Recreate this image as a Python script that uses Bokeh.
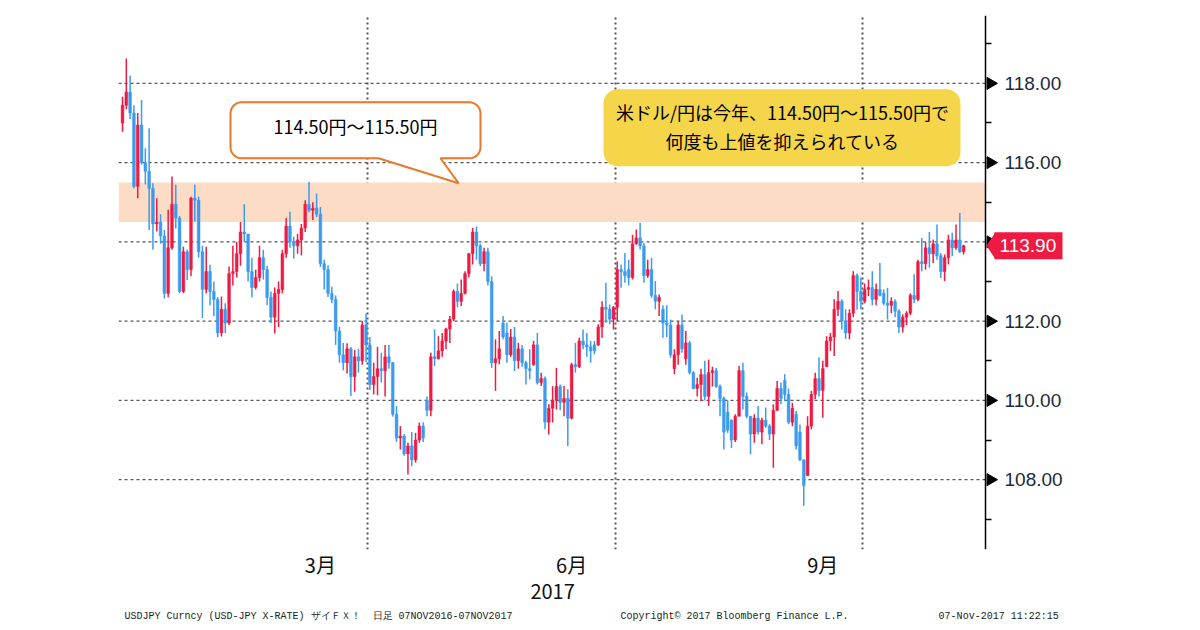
import numpy as np
import pandas as pd
from bokeh.plotting import figure
from bokeh.models import (Range1d, FixedTicker, PrintfTickFormatter, BoxAnnotation,
                          Label, ColumnDataSource, PolyAnnotation, Title)
from bokeh.embed import file_html
from bokeh.resources import INLINE

# ---------------- data (USD/JPY daily) ----------------
start_date = "2017-01-02"
end_date = "2017-11-07"

opens = [
    117.00, 117.45, 117.78, 117.25, 115.40, 116.95, 116.00, 115.78, 115.35, 114.45,
    114.50, 114.15, 112.70, 113.85, 114.95, 114.60, 112.75, 113.75, 113.30, 115.10,
    115.05, 113.75, 112.80, 113.25, 112.75, 112.55, 111.70, 112.30, 111.95, 113.20,
    113.25, 113.70, 114.25, 114.20, 113.25, 112.85, 113.10, 113.60, 113.30, 112.60,
    112.10, 112.70, 112.80, 113.70, 114.40, 114.00, 113.90, 114.05, 114.35, 114.95,
    114.80, 114.85, 114.70, 113.45, 113.30, 112.70, 112.55, 111.75, 111.15, 110.95,
    111.30, 110.60, 111.10, 111.00, 111.90, 111.40, 110.40, 110.60, 110.80, 110.75,
    111.10, 110.95, 109.65, 109.05, 109.10, 108.65, 108.85, 108.50, 109.00, 109.35,
    110.00, 109.75, 111.10, 111.05, 111.25, 111.50, 111.80, 112.05, 112.75, 112.50,
    112.70, 113.20, 113.70, 114.25, 113.90, 113.45, 113.75, 113.00, 110.95, 111.05,
    111.95, 111.70, 111.15, 111.60, 111.00, 111.30, 110.95, 110.80, 110.90, 111.40,
    110.45, 110.55, 109.45, 109.80, 110.00, 110.35, 109.95, 110.05, 109.55, 110.90,
    110.85, 111.50, 111.40, 111.35, 111.40, 111.40, 111.85, 112.35, 112.30, 112.05,
    112.35, 113.30, 113.25, 113.30, 113.10, 113.95, 114.10, 113.90, 113.15, 113.30,
    112.65, 112.50, 112.30, 111.95, 111.90, 110.80, 111.15, 111.90, 111.05, 111.45,
    110.70, 110.30, 110.40, 110.65, 110.10, 110.70, 110.75, 110.35, 110.05, 109.70,
    109.50, 109.00, 109.60, 110.75, 110.10, 109.60, 109.15, 109.55, 109.20, 109.50,
    109.35, 109.15, 109.75, 110.30, 110.50, 110.15, 109.45, 109.65, 109.20, 108.50,
    108.10, 109.35, 110.15, 110.55, 110.25, 110.85, 111.50, 111.60, 112.30, 112.50,
    112.00, 111.70, 112.20, 113.15, 112.75, 112.50, 112.80, 112.85, 112.55, 112.80,
    112.70, 112.45, 112.40, 112.50, 112.25, 111.85, 112.10, 112.20, 112.65, 112.55,
    113.50, 113.45, 113.85, 113.70, 113.95, 113.65, 113.25, 113.60, 114.05, 113.85,
    114.05, 113.75,
]
highs = [
    117.66, 118.63, 118.20, 117.45, 117.25, 117.58, 116.36, 116.87, 115.48, 115.10,
    114.70, 114.30, 114.81, 115.65, 115.44, 114.65, 113.88, 113.80, 115.14, 115.44,
    115.14, 113.90, 113.88, 113.42, 113.00, 112.60, 112.62, 112.45, 113.38, 113.90,
    114.00, 114.50, 114.95, 114.20, 113.60, 113.30, 113.90, 113.80, 113.40, 112.75,
    112.85, 113.00, 113.80, 114.60, 114.76, 114.13, 114.20, 114.45, 115.05, 115.51,
    115.00, 115.22, 114.88, 113.55, 113.41, 112.87, 112.65, 111.86, 111.45, 111.44,
    111.35, 111.27, 111.30, 112.00, 112.19, 111.60, 110.95, 111.35, 111.20, 111.40,
    111.40, 110.97, 109.86, 109.35, 109.15, 108.93, 109.20, 109.18, 109.44, 109.45,
    110.10, 111.20, 111.79, 111.62, 111.70, 111.83, 112.13, 112.80, 112.95, 113.05,
    113.26, 113.72, 114.35, 114.39, 113.95, 113.85, 113.85, 113.13, 111.54, 111.75,
    112.13, 111.96, 111.80, 111.85, 111.45, 111.40, 111.00, 111.29, 111.50, 111.70,
    110.70, 110.60, 109.90, 110.36, 110.82, 110.40, 110.36, 110.28, 110.95, 111.45,
    111.58, 111.79, 111.70, 111.50, 111.50, 111.92, 112.50, 112.97, 112.42, 112.38,
    113.51, 113.43, 113.72, 113.55, 114.18, 114.31, 114.48, 113.97, 113.55, 113.60,
    113.01, 112.67, 112.40, 112.40, 112.04, 111.29, 112.00, 112.17, 111.75, 111.50,
    110.74, 110.57, 110.80, 111.00, 111.03, 110.85, 110.82, 110.40, 110.10, 110.00,
    109.52, 109.65, 110.87, 110.95, 110.20, 109.60, 109.65, 109.86, 109.56, 109.82,
    109.40, 109.90, 110.49, 110.45, 110.66, 110.30, 109.94, 109.73, 109.39, 108.51,
    109.60, 110.24, 110.70, 111.08, 111.00, 111.62, 111.70, 112.55, 112.76, 112.55,
    112.30, 112.30, 113.26, 113.20, 113.10, 112.95, 113.05, 113.26, 112.95, 113.47,
    112.80, 112.84, 112.60, 112.55, 112.30, 112.17, 112.25, 112.70, 113.18, 113.55,
    114.10, 114.00, 114.25, 114.06, 114.44, 113.72, 113.68, 114.18, 114.23, 114.44,
    114.73, 113.93,
]
lows = [
    116.78, 117.35, 117.10, 115.35, 115.10, 115.95, 115.45, 114.30, 113.80, 114.26,
    113.95, 112.57, 112.60, 113.80, 114.34, 112.71, 112.71, 113.04, 113.13, 114.51,
    113.60, 112.08, 112.70, 112.40, 112.12, 111.59, 111.61, 111.70, 111.90, 112.90,
    113.10, 113.40, 114.00, 113.00, 112.60, 112.80, 113.00, 113.05, 112.40, 111.95,
    111.69, 111.85, 112.70, 113.60, 113.85, 113.58, 113.70, 113.66, 114.25, 114.75,
    114.55, 114.63, 113.37, 112.80, 112.61, 112.45, 111.40, 110.95, 110.76, 110.68,
    110.11, 110.22, 110.70, 110.90, 110.97, 110.26, 110.15, 110.13, 110.45, 110.10,
    110.80, 109.59, 108.95, 108.76, 108.60, 108.13, 108.34, 108.43, 108.93, 108.95,
    109.60, 109.60, 110.87, 111.03, 111.10, 111.29, 111.45, 112.00, 112.35, 112.38,
    112.67, 113.10, 113.43, 113.55, 113.39, 113.26, 112.90, 110.82, 110.24, 110.91,
    111.54, 110.95, 111.10, 110.74, 110.80, 110.85, 110.40, 110.53, 110.87, 110.40,
    110.36, 109.27, 109.14, 109.44, 109.77, 109.75, 109.60, 108.85, 109.52, 110.70,
    110.82, 111.29, 111.10, 110.95, 111.16, 111.37, 111.58, 111.96, 111.92, 111.79,
    112.00, 112.84, 112.97, 112.90, 113.05, 113.93, 113.81, 112.97, 113.09, 112.59,
    112.30, 112.13, 111.58, 111.60, 111.08, 110.66, 110.90, 111.20, 110.90, 110.66,
    110.28, 110.10, 109.98, 110.00, 109.86, 110.35, 110.32, 109.60, 108.76, 109.18,
    108.80, 108.95, 109.60, 109.77, 109.55, 108.64, 108.93, 109.14, 108.89, 109.31,
    109.00, 108.30, 109.73, 109.90, 109.98, 109.40, 109.35, 108.76, 108.47, 107.34,
    108.10, 109.27, 110.03, 110.10, 109.56, 110.85, 111.25, 111.12, 112.13, 111.79,
    111.55, 111.54, 112.10, 112.29, 112.30, 112.45, 112.63, 112.40, 112.40, 112.63,
    112.40, 112.04, 112.20, 112.10, 111.70, 111.71, 111.90, 112.15, 112.46, 112.50,
    113.26, 113.30, 113.35, 113.47, 113.55, 113.09, 113.01, 113.43, 113.64, 113.80,
    113.72, 113.68,
]
closes = [
    117.45, 117.78, 117.25, 115.40, 116.95, 116.00, 115.78, 115.35, 114.45, 114.50,
    114.15, 112.70, 113.85, 114.95, 114.60, 112.75, 113.75, 113.30, 115.10, 115.05,
    113.75, 112.80, 113.25, 112.75, 112.55, 111.70, 112.30, 111.95, 113.20, 113.25,
    113.70, 114.25, 114.20, 113.25, 112.85, 113.10, 113.60, 113.30, 112.60, 112.10,
    112.70, 112.80, 113.70, 114.40, 114.00, 113.90, 114.05, 114.35, 114.95, 114.80,
    114.85, 114.70, 113.45, 113.30, 112.70, 112.55, 111.75, 111.15, 110.95, 111.30,
    110.60, 111.10, 111.00, 111.90, 111.40, 110.40, 110.60, 110.80, 110.75, 111.10,
    110.95, 109.65, 109.05, 109.10, 108.65, 108.85, 108.50, 109.00, 109.35, 109.05,
    109.75, 111.10, 111.05, 111.25, 111.50, 111.80, 112.05, 112.75, 112.50, 112.70,
    113.20, 113.70, 114.25, 113.90, 113.45, 113.75, 113.00, 110.95, 111.05, 111.30,
    111.60, 111.15, 111.60, 111.00, 111.30, 110.95, 110.80, 110.75, 111.40, 110.45,
    110.55, 109.45, 109.80, 110.00, 110.35, 109.95, 110.05, 109.55, 110.90, 110.85,
    111.50, 111.40, 111.35, 111.25, 111.25, 111.85, 112.35, 112.30, 112.05, 112.35,
    113.30, 113.25, 113.15, 113.10, 113.95, 114.10, 113.90, 113.15, 113.30, 112.65,
    112.50, 112.60, 111.95, 111.90, 111.15, 111.15, 111.90, 111.30, 111.45, 110.70,
    110.30, 110.40, 110.65, 110.10, 110.70, 110.75, 110.35, 110.05, 109.20, 109.25,
    109.00, 109.60, 110.75, 110.10, 109.60, 109.15, 109.55, 109.20, 109.50, 109.35,
    109.15, 109.75, 110.30, 110.05, 110.15, 109.45, 109.80, 108.85, 108.50, 107.85,
    109.35, 110.15, 110.55, 110.25, 110.80, 111.50, 111.60, 112.30, 112.50, 112.00,
    111.70, 112.20, 113.15, 112.75, 112.50, 112.80, 112.85, 112.55, 112.80, 112.65,
    112.45, 112.40, 112.50, 112.25, 111.85, 112.10, 112.20, 112.65, 112.55, 113.50,
    113.45, 113.85, 113.70, 113.95, 113.65, 113.25, 113.60, 114.05, 113.85, 114.05,
    113.75, 113.90,
]

y_ticks = [108, 110, 112, 114, 116, 118]
y_minor_ticks = [107, 109, 111, 113, 115, 117, 119]
band_low, band_high = 114.50, 115.50
last_price = 113.90
month_labels = {3: "3月", 6: "6月", 9: "9月"}
year_label = "2017"
callout_text = "114.50円～115.50円"
note_lines = ["米ドル/円は今年、114.50円～115.50円で", "何度も上値を抑えられている"]
footer_left = "USDJPY Curncy (USD-JPY X-RATE) ザイＦＸ！  日足 07NOV2016-07NOV2017"
footer_mid = "Copyright© 2017 Bloomberg Finance L.P."
footer_right = "07-Nov-2017 11:22:15"

# ---------------- derived ----------------
dates = pd.bdate_range(start_date, end_date)[:len(closes)]
idx = np.arange(len(closes))
o = np.array(opens); h = np.array(highs); l = np.array(lows); c = np.array(closes)
RED, BLUE = "#ee1a42", "#3b9bee"
colors = [RED if cc >= oo else BLUE for oo, cc in zip(o, c)]
src = ColumnDataSource(dict(x=idx, top=np.maximum(o, c), bottom=np.minimum(o, c),
                            high=h, low=l, color=colors))

months = dates.month.values
boundaries = [float(np.argmax(months == m)) - 0.5 for m in (4, 7, 10)]
label_pos = {}
for m, txt in month_labels.items():
    k = int(np.searchsorted(dates, pd.Timestamp(2017, m, 15)))
    label_pos[k] = txt

# pixel helpers (layout only)
X0, DX, Y0, DY = 122.0, 3.806, 83.0, 39.7
def sx(px): return (px - X0) / DX
def sy(py): return 118.0 - (py - Y0) / DY

W, H = 1184, 622
FL, FR, FT, FB = 118, 1075, 15, 550      # frame (extends right past the price axis)
AX = 985                                  # price axis position
p = figure(width=W, height=H, output_backend="svg", toolbar_location=None,
           x_range=Range1d(sx(FL), sx(FR)), y_range=Range1d(sy(FB), sy(FT)),
           y_axis_location="right", min_border_left=FL, min_border_right=W - FR,
           min_border_top=FT, min_border_bottom=H - FB)
p.outline_line_color = None
p.background_fill_color = "white"
p.border_fill_color = "white"
p.ygrid.visible = False

p.add_layout(BoxAnnotation(bottom=band_low, top=band_high, right=sx(AX), fill_color="#fddcc6",
                           fill_alpha=1.0, line_color=None, level="underlay"))

# horizontal dashed grid up to the price axis
p.segment(x0=[sx(FL)] * len(y_ticks), x1=[sx(AX)] * len(y_ticks), y0=y_ticks, y1=y_ticks,
          line_color="#555555", line_dash="3 3", line_width=1.3)

yax = p.yaxis[0]
yax.fixed_location = sx(AX)
yax.ticker = FixedTicker(ticks=y_ticks, minor_ticks=y_minor_ticks)
yax.formatter = PrintfTickFormatter(format="%.2f")
yax.axis_line_color = "black"
yax.axis_line_width = 1.5
yax.major_tick_line_color = None
yax.major_tick_in = 0
yax.major_tick_out = 0
yax.minor_tick_line_color = "black"
yax.minor_tick_line_width = 1.5
yax.minor_tick_in = 0
yax.minor_tick_out = 6
yax.major_label_standoff = 13
yax.major_label_text_font = "Liberation Sans"
yax.major_label_text_font_size = "19px"
yax.major_label_text_color = "#1c2a3a"

# triangular major tick marks
p.scatter(x=[sx(AX + 5)] * len(y_ticks), y=y_ticks, marker="triangle", size=12,
          angle=-np.pi / 2, fill_color="black", line_color="black")

# month labels, with the year on a second line centred under the chart body
year_tick = int(round((sx(FL) + sx(AX)) / 2))
x_labels = dict(label_pos)
x_labels[year_tick] = "\n" + year_label
xax = p.xaxis[0]
xax.ticker = FixedTicker(ticks=sorted(x_labels.keys()))
xax.major_label_overrides = x_labels
xax.axis_line_color = None
xax.major_tick_line_color = None
xax.minor_tick_line_color = None
xax.major_tick_out = 0
xax.major_label_standoff = 0
xax.major_label_text_font = "Noto Sans CJK JP"
xax.major_label_text_font_size = "20px"
xax.major_label_text_color = "#111111"
xax.major_label_text_line_height = 0.9

p.xgrid.ticker = FixedTicker(ticks=boundaries)
p.xgrid.grid_line_color = "#555555"
p.xgrid.grid_line_dash = "2 3"
p.xgrid.grid_line_width = 2

p.segment(x0="x", y0="low", x1="x", y1="high", line_color="color", line_width=1.5, source=src)
p.vbar(x="x", width=0.72, top="top", bottom="bottom", fill_color="color",
       line_color="color", line_width=0.5, source=src)

def rounded(x0, y0, x1, y1, r, pointer=None, n=8):
    pts = []
    corners = [((x1 - r, y0 + r), -90, 0), ((x1 - r, y1 - r), 0, 90),
               ((x0 + r, y1 - r), 90, 180), ((x0 + r, y0 + r), 180, 270)]
    for k, ((cx, cy), a0, a1) in enumerate(corners):
        for a in np.linspace(np.radians(a0), np.radians(a1), n):
            pts.append((cx + r * np.cos(a), cy + r * np.sin(a)))
        if k == 1 and pointer:
            pts.extend(pointer)
    return [sx(px) for px, _ in pts], [sy(py) for _, py in pts]

cx_, cy_ = rounded(230, 102, 480, 158, 11, pointer=[(440, 158), (458, 183), (378, 158)])
p.patch(cx_, cy_, fill_color="white", line_color="#e8782a", line_width=2)
yx_, yy_ = rounded(603, 89, 960, 166, 14)
p.patch(yx_, yy_, fill_color="#f5d54a", line_color=None)

p.add_layout(Label(x=sx(355), y=sy(126), text=callout_text, text_align="center",
                   text_baseline="middle", text_font="Noto Sans CJK JP",
                   text_font_size="18px", text_color="black"))
for line, py in zip(note_lines, [112, 141]):
    p.add_layout(Label(x=sx(782), y=sy(py), text=line, text_align="center",
                       text_baseline="middle", text_font="Noto Sans CJK JP",
                       text_font_size="18px", text_color="black"))

# last price tag (inside the extended frame)
hh = 13.5 / DY
p.add_layout(BoxAnnotation(left=sx(AX + 9), right=sx(1062), bottom=last_price - hh,
                           top=last_price + hh, fill_color=RED, fill_alpha=1.0,
                           line_color=None))
p.add_layout(PolyAnnotation(xs=[sx(AX + 1), sx(AX + 10), sx(AX + 10)],
                            ys=[last_price, last_price + hh, last_price - hh],
                            fill_color=RED, fill_alpha=1.0, line_color=None))
p.add_layout(Label(x=sx(999), y=last_price, text=f"{last_price:.2f}", text_align="left",
                   text_baseline="middle", text_color="white", text_font="Liberation Sans",
                   text_font_size="19px"))

# footer line as a title below the axis (monospace, padded with no-break spaces)
NB = "\u00a0"
footer = (footer_left.replace("  ", NB * 2) + NB * 18 + footer_mid + NB * 15 + footer_right)
p.add_layout(Title(text=footer, align="left", offset=6, text_font="Liberation Mono",
                   text_font_size="10px", text_font_style="normal", text_color="#222222",
                   standoff=2), "below")

open("out.html", "w").write(file_html(p, INLINE))
